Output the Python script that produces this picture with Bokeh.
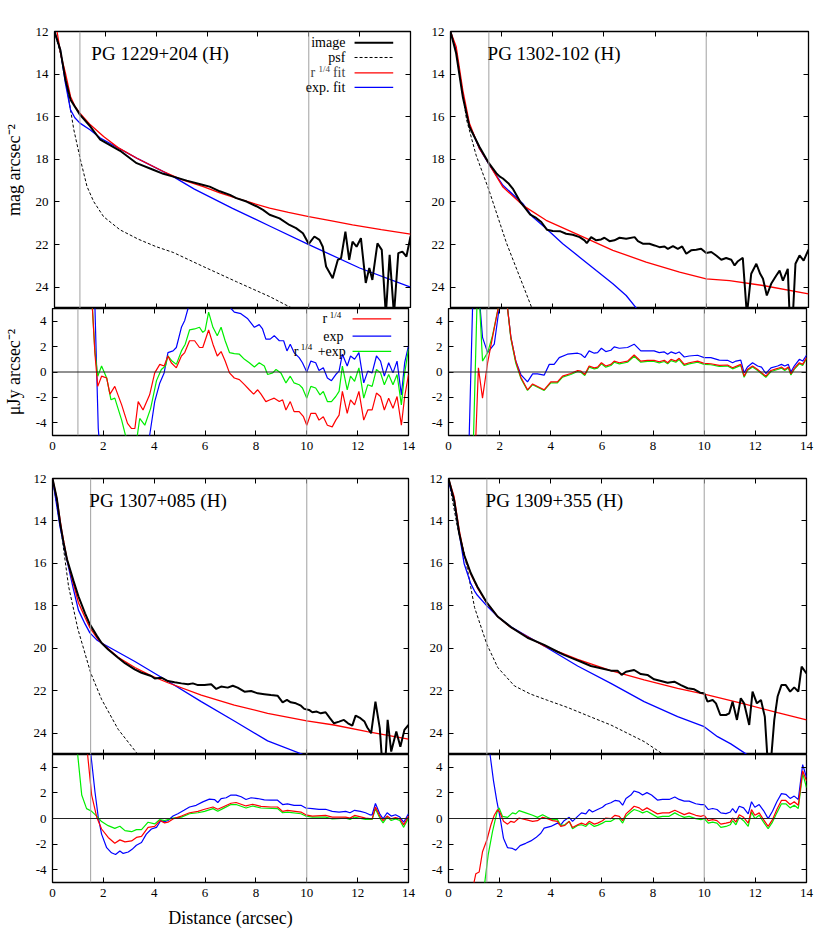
from bokeh.plotting import figure
from bokeh.models import Range1d, LinearAxis, FixedTicker, Span, Label, Arrow
from bokeh.layouts import column, row
from bokeh.embed import file_html
from bokeh.resources import INLINE

# ---------------- data (distance arcsec, value) ----------------
x_ticks = [0, 2, 4, 6, 8, 10, 12, 14]
mag_ticks = [12, 14, 16, 18, 20, 22, 24]
res_ticks = [-4, -2, 0, 2, 4]
titles = ["PG 1229+204 (H)", "PG 1302-102 (H)", "PG 1307+085 (H)", "PG 1309+355 (H)"]
inner_radius = [1.0, 1.5, 1.5, 1.5]
outer_radius = [10.0, 10.0, 10.0, 10.0]

# PG 1229+204
tl_img = [(0,12),(0.23,12.86),(0.43,14.27),(0.63,15.2),(1.0,15.9),(1.41,16.46),(1.8,17.08),(2.58,17.6),(3.23,18.18),(3.88,18.49),(4.28,18.68),(4.67,18.81),(5.2,19.0),(5.85,19.2),(6.1,19.28),(6.5,19.5),(6.9,19.67),(7.15,19.82),(7.55,19.98),(7.94,20.2),(8.2,20.37),(8.46,20.6),(8.85,20.77),(9.24,21.08),(9.5,21.23),(9.77,21.47),(10.0,21.97),(10.22,21.62),(10.42,21.78),(10.55,22.1),(10.68,23.03),(10.94,23.58),(11.14,22.72),(11.27,22.64),(11.44,21.39),(11.59,22.72),(11.72,21.86),(11.88,22.1),(12.05,21.7),(12.24,23.8),(12.38,23.1),(12.5,23.66),(12.7,21.94),(12.87,22.25),(13.03,25.3),(13.18,22.48),(13.35,25.3),(13.52,22.4),(13.68,22.33),(13.84,22.56),(14.0,21.62)]
tl_psf = [(0,12),(0.25,13.1),(0.5,14.74),(0.76,16.61),(1.02,18.02),(1.28,19.28),(1.54,19.98),(1.93,20.69),(2.58,21.31),(3.3,21.75),(4.0,22.1),(4.67,22.37),(5.85,23.03),(7.15,23.74),(8.46,24.44),(9.27,24.94),(9.5,25.06)]
tl_r14 = [(0.1,12.0),(0.25,13.1),(0.43,13.96),(0.63,15.05),(0.8,15.5),(1.0,15.83),(1.41,16.38),(1.93,16.93),(2.5,17.45),(3.24,17.95),(4.28,18.57),(5.0,18.95),(5.85,19.28),(6.5,19.57),(7.15,19.82),(7.8,20.06),(8.46,20.29),(9.2,20.49),(10.0,20.69),(10.85,20.88),(11.72,21.08),(12.85,21.3),(14.0,21.51)]
tl_exp = [(0,12),(0.23,12.86),(0.43,14.43),(0.63,15.68),(0.8,16.05),(1.0,16.3),(1.41,16.62),(1.8,17.0),(3.23,17.94),(4.67,18.81),(5.5,19.4),(7.0,20.3),(8.5,21.15),(10.0,22.0),(12.0,23.1),(14.0,24.0)]
tl_res_r14 = [(1.45,8),(1.57,4.99),(1.67,1.4),(1.78,-1.13),(1.93,-0.33),(2.13,-0.47),(2.26,-1.74),(2.45,-1.13),(2.72,-2.59),(2.95,-4.05),(3.11,-4.45),(3.24,-4.45),(3.37,-2.33),(3.56,-2.99),(3.82,-1.8),(4.02,-0.07),(4.22,0.6),(4.39,0.47),(4.54,1.26),(4.67,0.73),(4.87,0.33),(5.07,1.26),(5.2,1.53),(5.39,2.46),(5.59,2.46),(5.78,1.93),(5.91,1.93),(6.14,3.31),(6.31,2.19),(6.48,1.26),(6.63,1.61),(6.79,0.86),(6.96,-0.07),(7.15,-0.47),(7.35,-0.6),(7.55,-1.0),(7.74,-1.4),(7.91,-1.74),(8.07,-1.4),(8.2,-1.74),(8.39,-2.33),(8.56,-2.19),(8.72,-2.06),(8.92,-2.33),(9.05,-2.19),(9.18,-2.99),(9.35,-2.33),(9.5,-3.12),(9.7,-3.12),(9.87,-3.52),(10.0,-4.19),(10.16,-3.26),(10.35,-3.26),(10.48,-3.79),(10.65,-3.52),(10.81,-4.19),(11.0,-4.32),(11.14,-3.79),(11.27,-3.39),(11.4,-1.53),(11.59,-3.26),(11.72,-2.19),(11.88,-2.59),(12.05,-1.53),(12.24,-3.79),(12.4,-2.99),(12.57,-2.99),(12.74,-1.66),(12.9,-1.93),(13.05,-2.99),(13.22,-2.06),(13.39,-2.86),(13.55,-1.93),(13.72,-4.19),(13.85,-1.93),(14.0,-0.2)]
tl_res_exp = [(1.6,8),(1.67,5.0),(1.8,-4.45),(1.9,-7),(2.5,-12),(3.2,-10),(3.7,-6),(3.82,-5.0),(4.02,-2.33),(4.22,-0.86),(4.39,-0.07),(4.54,1.53),(4.74,1.66),(4.87,1.93),(5.07,3.52),(5.2,4.06),(5.33,5.0),(5.8,6.6),(6.2,7.5),(6.6,6.5),(7.02,5.0),(7.15,4.72),(7.41,4.59),(7.68,4.19),(7.94,3.52),(8.13,3.73),(8.26,3.39),(8.39,2.59),(8.56,2.59),(8.72,2.86),(8.92,2.46),(9.09,2.46),(9.22,1.66),(9.35,2.19),(9.5,1.53),(9.7,1.13),(9.83,0.73),(10.0,0.0),(10.16,0.86),(10.35,0.73),(10.48,0.12),(10.65,0.33),(10.81,-0.47),(10.97,-0.68),(11.14,-0.2),(11.27,0.07),(11.4,1.4),(11.59,0.47),(11.72,1.26),(11.88,1.0),(12.05,1.53),(12.24,-0.86),(12.4,0.07),(12.57,-0.07),(12.74,1.26),(12.9,0.86),(13.05,-0.33),(13.22,0.73),(13.39,-0.07),(13.55,0.86),(13.72,-1.8),(13.85,0.73),(14.0,2.06)]
tl_res_both = [(1.45,8),(1.57,4.99),(1.67,1.6),(1.78,-0.33),(1.93,0.47),(2.13,-0.47),(2.3,-2.19),(2.45,-2.06),(2.72,-3.79),(2.87,-4.99),(3.11,-5.5),(3.3,-5.5),(3.43,-3.66),(3.63,-4.19),(3.86,-2.86),(4.09,-0.68),(4.28,0.2),(4.44,0.47),(4.54,1.26),(4.7,0.86),(4.87,0.6),(5.07,1.66),(5.22,2.19),(5.39,3.31),(5.59,3.39),(5.78,3.52),(5.91,3.12),(6.0,3.26),(6.14,4.72),(6.31,3.52),(6.48,2.86),(6.63,3.52),(6.79,2.46),(6.96,1.53),(7.15,1.45),(7.35,1.4),(7.55,1.0),(7.74,0.73),(7.94,0.39),(8.13,0.73),(8.33,0.47),(8.46,-0.2),(8.66,-0.07),(8.79,0.2),(8.98,-0.07),(9.18,-0.86),(9.35,-0.33),(9.5,-0.86),(9.7,-1.0),(9.83,-1.26),(10.0,-2.06),(10.16,-1.13),(10.35,-1.26),(10.52,-1.8),(10.65,-1.53),(10.81,-2.33),(10.97,-2.33),(11.14,-1.93),(11.27,-1.53),(11.4,0.47),(11.59,-1.4),(11.72,-0.33),(11.88,-0.73),(12.05,0.33),(12.24,-2.06),(12.4,-1.0),(12.57,-1.13),(12.74,0.2),(12.9,-0.07),(13.05,-1.0),(13.22,-0.2),(13.39,-1.0),(13.55,-0.2),(13.72,-2.59),(13.85,-0.07),(14.0,1.8)]

# PG 1302-102
tr_img = [(0,12),(0.22,13.02),(0.48,15.06),(0.74,16.47),(1.13,17.41),(1.5,18.18),(1.79,18.65),(1.93,18.81),(2.05,18.9),(2.26,19.12),(2.45,19.4),(2.72,19.98),(2.9,20.25),(3.12,20.6),(3.35,20.75),(3.55,20.94),(3.77,21.3),(4.0,21.36),(4.3,21.38),(4.52,21.49),(4.78,21.54),(5.05,21.65),(5.24,21.8),(5.33,21.93),(5.5,21.65),(5.7,21.8),(5.89,21.76),(6.02,21.68),(6.22,21.84),(6.41,21.8),(6.61,21.68),(6.87,21.73),(7.2,21.65),(7.33,21.84),(7.52,21.96),(7.78,21.96),(7.98,22.04),(8.17,22.12),(8.37,22.09),(8.5,22.2),(8.7,22.07),(8.89,22.2),(9.06,22.09),(9.22,22.43),(9.41,22.27),(9.61,22.24),(9.8,22.2),(10.0,22.4),(10.2,22.35),(10.39,22.51),(10.59,22.71),(10.78,22.63),(10.98,22.71),(11.11,22.98),(11.24,22.78),(11.43,22.62),(11.59,25.3),(11.76,23.37),(11.96,22.9),(12.11,23.37),(12.22,23.6),(12.37,24.39),(12.54,23.84),(12.74,23.45),(12.87,23.22),(13.0,23.69),(13.19,23.14),(13.26,25.3),(13.39,25.3),(13.49,22.9),(13.65,22.51),(13.81,22.75),(14.0,22.24)]
tr_psf = [(0,12),(0.25,13.1),(0.63,16.15),(1.0,17.8),(1.5,19.43),(2.19,21.93),(3.16,24.91),(3.25,25.2)]
tr_r14 = [(0,12),(0.22,12.7),(0.48,14.75),(0.74,16.31),(1.13,17.49),(1.5,18.2),(2.05,19.3),(2.83,20.16),(3.74,20.86),(5.05,21.57),(6.35,22.27),(7.65,22.82),(8.96,23.29),(10.0,23.61),(10.91,23.69),(12.22,23.92),(14.0,24.31)]
tr_exp = [(0,12),(0.22,12.9),(0.48,14.98),(0.74,16.39),(1.13,17.49),(1.5,18.23),(2.05,19.22),(2.83,20.08),(3.22,20.71),(3.74,21.25),(4.39,21.96),(5.05,22.59),(5.7,23.22),(6.35,23.84),(6.87,24.39),(7.26,24.97),(7.5,25.3)]
tr_res_r14 = [(1.0,-8),(1.07,-5),(1.17,0.33),(1.33,-2.06),(1.53,0.73),(1.72,2.73),(1.94,5),(2.15,6.5),(2.31,5),(2.44,2.73),(2.63,0.86),(2.83,-0.41),(3.09,-1.4),(3.29,-0.94),(3.74,-1.4),(4.0,-0.78),(4.26,-0.78),(4.46,-0.33),(4.78,-0.12),(5.05,0.12),(5.18,0.07),(5.33,-0.2),(5.5,0.47),(5.7,0.33),(5.83,0.39),(5.98,0.73),(6.15,0.47),(6.35,0.6),(6.48,0.86),(6.68,0.73),(7.0,0.86),(7.26,1.34),(7.52,0.86),(7.78,0.92),(8.04,0.92),(8.24,0.81),(8.44,0.92),(8.57,0.73),(8.7,1.0),(8.89,0.86),(9.02,1.08),(9.22,0.6),(9.41,0.73),(9.74,0.86),(10.0,0.68),(10.26,0.65),(10.59,0.52),(10.91,0.55),(11.11,0.33),(11.43,0.6),(11.56,-0.33),(11.69,0.2),(11.89,0.47),(12.09,0.2),(12.41,-0.33),(12.61,0.12),(12.87,0.28),(13.02,0.39),(13.15,0.2),(13.29,0.39),(13.39,-0.15),(13.52,0.28),(13.72,0.73),(13.85,0.6),(14.0,1.13)]
tr_res_exp = [(0.7,-8),(0.81,-5),(0.94,5),(1.0,8),(1.2,6),(1.33,2.73),(1.53,1.53),(1.79,2.19),(1.98,5),(2.18,6),(2.31,5),(2.44,2.73),(2.63,0.86),(2.83,-0.2),(3.09,-0.78),(3.29,-0.15),(3.48,-0.15),(3.74,-0.25),(3.94,0.6),(4.13,0.6),(4.33,1.13),(4.65,1.4),(5.05,1.48),(5.18,1.4),(5.33,1.13),(5.5,1.66),(5.7,1.48),(5.83,1.53),(5.98,1.87),(6.15,1.61),(6.35,1.71),(6.48,1.98),(6.68,1.87),(7.0,1.93),(7.26,2.19),(7.52,1.66),(7.78,1.66),(8.04,1.66),(8.24,1.53),(8.44,1.58),(8.57,1.4),(8.7,1.58),(8.89,1.45),(9.02,1.58),(9.22,1.18),(9.41,1.26),(9.74,1.32),(10.0,1.13),(10.26,1.13),(10.59,0.94),(10.91,0.92),(11.11,0.73),(11.24,0.86),(11.43,0.94),(11.56,-0.07),(11.69,0.39),(11.89,0.73),(12.09,0.47),(12.24,0.39),(12.41,-0.12),(12.61,0.33),(12.87,0.47),(13.02,0.6),(13.15,0.47),(13.29,0.6),(13.39,0.0),(13.52,0.47),(13.72,1.0),(13.85,0.86),(14.0,1.32)]
tr_res_both = [(0.9,-8),(0.98,-5),(1.11,5),(1.2,6),(1.33,0.86),(1.53,1.53),(1.72,2.86),(1.94,5),(2.15,6.5),(2.31,5),(2.44,2.6),(2.63,0.7),(2.83,-0.5),(3.09,-1.45),(3.29,-1.0),(3.74,-1.45),(4.0,-0.85),(4.26,-0.85),(4.46,-0.4),(4.78,-0.2),(5.05,0.04),(5.18,-0.02),(5.33,-0.28),(5.5,0.38),(5.7,0.25),(5.83,0.3),(5.98,0.64),(6.15,0.38),(6.35,0.51),(6.48,0.77),(6.68,0.64),(7.0,0.77),(7.26,1.24),(7.52,0.77),(7.78,0.83),(8.04,0.83),(8.24,0.72),(8.44,0.83),(8.57,0.64),(8.7,0.9),(8.89,0.77),(9.02,0.98),(9.22,0.51),(9.41,0.64),(9.74,0.77),(10.0,0.6),(10.26,0.57),(10.59,0.44),(10.91,0.47),(11.11,0.25),(11.43,0.52),(11.56,-0.42),(11.69,0.12),(11.89,0.39),(12.09,0.12),(12.41,-0.42),(12.61,0.04),(12.87,0.2),(13.02,0.31),(13.15,0.12),(13.29,0.31),(13.39,-0.24),(13.52,0.2),(13.72,0.65),(13.85,0.52),(14.0,1.05)]

# PG 1307+085
bl_img = [(0,12),(0.17,12.94),(0.3,14.1),(0.43,15.0),(0.57,15.8),(0.82,16.8),(1.02,17.55),(1.28,18.35),(1.47,18.87),(1.74,19.4),(1.93,19.75),(2.19,20.05),(2.58,20.44),(2.85,20.7),(3.23,20.99),(3.5,21.15),(3.88,21.3),(4.02,21.42),(4.28,21.38),(4.54,21.54),(4.8,21.6),(5.07,21.65),(5.33,21.69),(5.52,21.65),(5.72,21.73),(5.98,21.73),(6.24,21.69),(6.44,21.91),(6.63,21.8),(6.89,21.85),(7.09,21.76),(7.28,21.85),(7.55,22.04),(7.81,22.01),(8.07,22.12),(8.33,22.16),(8.59,22.2),(8.85,22.23),(9.05,22.54),(9.22,22.43),(9.37,22.54),(9.57,22.59),(9.77,22.7),(9.9,22.85),(10.09,22.9),(10.22,23.01),(10.39,22.98),(10.55,23.06),(10.74,23.01),(10.91,23.29),(11.07,23.53),(11.27,23.45),(11.46,23.37),(11.62,23.53),(11.79,23.64),(11.92,23.17),(12.11,23.29),(12.27,23.45),(12.38,23.73),(12.53,24.0),(12.7,22.51),(12.87,23.76),(12.96,25.3),(13.09,25.3),(13.18,23.37),(13.32,24.86),(13.52,23.92),(13.68,24.63),(13.84,23.84),(14.0,23.61)]
bl_psf = [(0,12),(0.37,14.72),(0.63,17.07),(1.0,19.1),(1.5,21.15),(1.93,22.4),(2.58,23.81),(3.3,24.91),(3.4,25.1)]
bl_r14 = [(0,12),(0.17,12.94),(0.37,14.5),(0.57,15.8),(0.82,16.95),(1.02,17.85),(1.28,18.55),(1.47,19.03),(1.74,19.5),(1.93,19.75),(2.58,20.42),(3.24,20.9),(3.89,21.3),(4.54,21.62),(5.85,22.2),(7.15,22.67),(8.46,23.06),(10.0,23.42),(11.07,23.61),(12.38,23.92),(14.0,24.28)]
bl_exp = [(0,12),(0.3,14.3),(0.57,15.85),(0.82,17.2),(1.02,18.2),(1.28,18.85),(1.47,19.27),(1.74,19.6),(1.93,19.75),(3.24,20.62),(4.54,21.55),(5.85,22.51),(7.15,23.42),(8.46,24.36),(9.83,24.99),(10.0,25.1)]
bl_res_r14 = [(1.3,8),(1.38,5),(1.54,1.83),(1.74,0.1),(1.93,-0.82),(2.19,-1.48),(2.45,-1.93),(2.65,-1.67),(2.85,-1.83),(3.11,-1.75),(3.3,-1.48),(3.5,-1.4),(3.76,-0.69),(4.02,-0.61),(4.22,-0.16),(4.41,-0.34),(4.54,-0.29),(4.74,-0.03),(5.07,0.19),(5.39,0.45),(5.72,0.56),(5.98,0.72),(6.31,0.9),(6.5,0.72),(6.7,0.9),(7.02,1.19),(7.22,1.25),(7.61,0.98),(7.87,1.11),(8.2,0.95),(8.59,0.9),(8.85,0.9),(9.05,0.56),(9.24,0.64),(9.77,0.5),(9.96,0.29),(10.22,0.19),(10.74,0.24),(11.0,0.11),(11.53,0.11),(11.7,0.03),(11.88,0.24),(12.31,0.03),(12.57,-0.03),(12.7,0.9),(12.87,0.19),(13.0,-0.16),(13.16,0.19),(13.32,-0.03),(13.49,0.08),(13.66,-0.03),(13.81,-0.5),(14.0,0.19)]
bl_res_exp = [(1.45,8),(1.51,5),(1.67,2.09),(1.8,0.1),(1.93,-1.22),(2.13,-2.28),(2.32,-2.68),(2.48,-2.81),(2.65,-2.54),(2.78,-2.73),(2.98,-2.62),(3.13,-2.41),(3.3,-2.09),(3.5,-1.88),(3.69,-1.22),(3.89,-0.82),(4.09,-0.69),(4.26,-0.16),(4.41,-0.24),(4.54,-0.16),(4.74,0.19),(4.93,0.37),(5.17,0.64),(5.39,0.9),(5.65,1.03),(5.91,1.3),(6.17,1.51),(6.37,1.48),(6.5,1.25),(6.63,1.56),(6.83,1.62),(7.02,1.83),(7.22,1.83),(7.42,1.7),(7.61,1.48),(7.81,1.62),(8.07,1.56),(8.33,1.46),(8.59,1.43),(8.85,1.43),(9.05,1.09),(9.24,1.14),(9.5,1.03),(9.77,1.03),(9.96,0.82),(10.22,0.77),(10.48,0.72),(10.74,0.72),(11.0,0.56),(11.27,0.5),(11.53,0.56),(11.7,0.45),(11.88,0.64),(12.11,0.56),(12.31,0.45),(12.48,0.29),(12.57,0.29),(12.7,1.17),(12.87,0.37),(13.0,-0.03),(13.16,0.45),(13.32,0.19),(13.49,0.29),(13.66,0.11),(13.81,-0.29),(14.0,0.37)]
bl_res_both = [(0.95,8),(0.99,5),(1.15,1.83),(1.34,0.77),(1.54,0.56),(1.74,0.19),(1.93,-0.24),(2.19,-0.56),(2.45,-0.77),(2.65,-0.61),(2.85,-0.95),(3.11,-1.03),(3.3,-0.87),(3.5,-0.87),(3.76,-0.29),(4.02,-0.42),(4.22,-0.08),(4.41,-0.16),(4.74,0.03),(5.07,0.11),(5.39,0.37),(5.72,0.45),(5.98,0.56),(6.31,0.77),(6.5,0.56),(6.7,0.77),(7.02,1.09),(7.22,1.09),(7.61,0.82),(7.87,0.98),(8.2,0.82),(8.85,0.77),(9.05,0.45),(9.24,0.5),(9.77,0.37),(9.96,0.19),(10.22,0.11),(10.74,0.11),(11.0,-0.03),(11.53,0.03),(11.7,-0.08),(11.88,0.11),(12.31,-0.08),(12.57,-0.08),(12.7,0.77),(12.87,0.03),(13.0,-0.34),(13.16,0.11),(13.32,-0.16),(13.49,-0.03),(13.66,-0.16),(13.81,-0.69),(14.0,0.03)]

# PG 1309+355
br_img = [(0,12),(0.22,13.02),(0.42,14.59),(0.61,15.6),(0.87,16.45),(1.02,16.83),(1.13,17.1),(1.5,17.85),(1.92,18.5),(2.44,19.0),(3.09,19.5),(3.74,19.84),(4.26,20.16),(4.52,20.31),(4.85,20.47),(5.18,20.63),(5.57,20.83),(5.96,20.94),(6.35,21.05),(6.61,21.05),(6.77,21.25),(6.94,21.1),(7.26,21.02),(7.52,21.21),(7.78,21.25),(8.04,21.46),(8.31,21.54),(8.57,21.62),(8.83,21.57),(9.09,21.73),(9.35,21.88),(9.61,21.93),(9.84,22.09),(10.0,22.12),(10.13,22.51),(10.33,22.43),(10.46,22.59),(10.63,23.14),(10.85,23.14),(10.98,23.06),(11.11,22.51),(11.28,23.37),(11.43,22.35),(11.56,22.59),(11.76,23.61),(11.89,22.04),(12.06,22.59),(12.22,22.43),(12.37,23.22),(12.48,25.3),(12.61,25.3),(12.74,23.37),(12.87,22.27),(13.02,21.73),(13.19,21.73),(13.36,22.04),(13.52,21.84),(13.68,22.04),(13.81,20.86),(14.0,21.18)]
br_psf = [(0,12),(0.35,14.3),(0.63,15.58),(1.02,18.08),(1.5,19.81),(1.93,20.91),(2.58,21.77),(3.2,22.15),(3.88,22.45),(4.67,22.79),(5.5,23.2),(6.35,23.61),(7.65,24.39),(8.37,24.97),(8.5,25.05)]
br_r14 = [(0,12),(0.22,12.86),(0.42,14.43),(0.61,15.61),(0.87,16.5),(1.13,17.15),(1.5,17.87),(1.92,18.5),(2.44,19.02),(3.74,19.89),(5.05,20.52),(6.35,21.05),(7.65,21.49),(8.96,21.88),(10.0,22.16),(11.56,22.62),(12.87,23.03),(14.0,23.37)]
br_exp = [(0,12.16),(0.22,13.02),(0.42,14.59),(0.61,16.0),(0.87,16.95),(1.02,17.3),(1.13,17.5),(1.5,18.0),(1.92,18.5),(2.44,18.98),(3.74,19.89),(5.05,20.83),(6.35,21.65),(7.65,22.51),(8.96,23.22),(10.0,23.69),(10.52,24.16),(11.04,24.5),(11.63,24.97),(11.8,25.1)]
br_res_r14 = [(0.9,-8),(1.0,-4.97),(1.07,-4.31),(1.2,-4.18),(1.33,-2.6),(1.5,-1.68),(1.66,-0.49),(1.79,0.25),(1.92,0.7),(2.02,0.44),(2.15,-0.22),(2.31,-0.44),(2.44,-0.22),(2.57,-0.3),(2.76,0.04),(3.02,-0.09),(3.29,-0.22),(3.48,-0.17),(3.68,0.09),(3.87,-0.01),(4.07,-0.17),(4.26,-0.22),(4.39,-0.62),(4.55,-0.54),(4.72,-0.22),(4.85,-0.7),(5.05,-0.49),(5.2,-0.36),(5.37,-0.49),(5.5,-0.22),(5.7,-0.44),(5.83,-0.36),(6.02,-0.17),(6.15,0.04),(6.35,-0.01),(6.51,0.25),(6.68,0.17),(6.81,-0.17),(6.94,0.36),(7.13,0.7),(7.26,0.96),(7.46,0.83),(7.59,0.62),(7.76,0.83),(7.94,0.62),(8.17,0.36),(8.37,0.44),(8.63,0.44),(8.85,0.65),(9.02,0.49),(9.22,0.3),(9.41,0.44),(9.67,0.25),(9.87,0.17),(10.0,0.25),(10.16,-0.17),(10.33,-0.09),(10.5,-0.17),(10.65,-0.44),(10.85,-0.36),(11.02,-0.28),(11.11,0.04),(11.24,-0.28),(11.37,0.3),(11.54,0.09),(11.72,-0.36),(11.85,0.7),(11.98,0.25),(12.15,0.44),(12.32,-0.09),(12.5,-0.62),(12.67,-0.09),(12.84,0.7),(13.02,1.41),(13.19,1.41),(13.36,1.09),(13.52,1.31),(13.68,1.04),(13.85,3.73),(14.0,2.94)]
br_res_exp = [(1.55,8),(1.63,4.92),(1.76,2.94),(1.89,1.36),(2.02,0.04),(2.15,-1.54),(2.31,-2.28),(2.5,-2.34),(2.63,-2.47),(2.8,-2.12),(3.02,-1.94),(3.22,-1.75),(3.42,-1.49),(3.61,-1.15),(3.74,-0.75),(4.0,-0.62),(4.26,-0.36),(4.39,-0.49),(4.52,-0.17),(4.72,0.09),(4.85,-0.22),(5.05,0.17),(5.2,0.44),(5.37,0.36),(5.5,0.7),(5.63,0.51),(5.83,0.7),(6.02,0.88),(6.15,1.09),(6.35,1.23),(6.51,1.41),(6.68,1.36),(6.81,1.04),(6.94,1.57),(7.13,1.83),(7.26,2.15),(7.46,2.02),(7.59,1.83),(7.76,2.02),(7.94,1.83),(8.17,1.44),(8.37,1.49),(8.63,1.49),(8.85,1.68),(9.02,1.49),(9.22,1.36),(9.41,1.36),(9.67,1.15),(9.87,1.09),(10.0,1.09),(10.16,0.7),(10.33,0.78),(10.5,0.7),(10.65,0.44),(10.85,0.38),(11.02,0.51),(11.11,0.78),(11.24,0.44),(11.37,0.96),(11.54,0.83),(11.72,0.36),(11.85,1.31),(11.98,0.88),(12.15,1.09),(12.32,0.62),(12.5,-0.01),(12.67,0.57),(12.84,1.31),(13.02,1.94),(13.19,1.89),(13.36,1.57),(13.52,1.75),(13.68,1.49),(13.85,4.21),(14.0,3.21)]
br_res_both = [(1.35,-8),(1.42,-4.97),(1.55,-2.86),(1.72,-1.02),(1.89,0.44),(1.98,0.83),(2.11,0.17),(2.31,0.09),(2.5,0.44),(2.63,0.36),(2.76,0.62),(3.02,0.44),(3.29,0.25),(3.48,0.09),(3.68,0.3),(3.87,0.09),(4.07,-0.09),(4.26,-0.09),(4.39,-0.54),(4.55,-0.49),(4.72,-0.22),(4.85,-0.8),(5.05,-0.54),(5.2,-0.49),(5.37,-0.62),(5.5,-0.36),(5.7,-0.62),(5.83,-0.54),(6.02,-0.36),(6.15,-0.22),(6.35,-0.22),(6.51,-0.01),(6.68,-0.01),(6.81,-0.36),(6.94,0.17),(7.13,0.51),(7.26,0.7),(7.46,0.57),(7.59,0.44),(7.76,0.57),(7.94,0.36),(8.17,0.09),(8.37,0.17),(8.63,0.17),(8.85,0.44),(9.02,0.25),(9.22,0.09),(9.41,0.17),(9.67,-0.01),(9.87,-0.09),(10.0,-0.01),(10.16,-0.36),(10.33,-0.28),(10.5,-0.36),(10.65,-0.7),(10.85,-0.62),(11.02,-0.49),(11.11,-0.17),(11.24,-0.49),(11.37,0.09),(11.54,-0.17),(11.72,-0.62),(11.85,0.51),(11.98,-0.01),(12.15,0.25),(12.32,-0.28),(12.5,-0.8),(12.67,-0.28),(12.84,0.44),(13.02,1.15),(13.19,1.15),(13.36,0.83),(13.52,1.04),(13.68,0.78),(13.85,3.52),(14.0,2.41)]

# ---------------- styling ----------------
FONT = "Liberation Serif"
RED, BLUE, GREEN, GREY = "#ff0000", "#0000ff", "#00ee00", "#a0a0a0"
FRAME_W = [356, 358]
BORDER_L = [52, 32]
BORDER_R = [8, 10]
# (top border, frame height, bottom border) for each row of panels
ROWS = {"main_top": (31, 277, 0), "res_top": (0, 127, 35),
        "main_bot": (8, 276, 0), "res_bot": (0, 128, 48)}


def xy(pairs):
    return [p[0] for p in pairs], [p[1] for p in pairs]


def add_axis(p, side, ticks, show_labels, axis_label=None, overrides=None):
    ax = LinearAxis(ticker=FixedTicker(ticks=ticks))
    ax.major_tick_in = 5
    ax.major_tick_out = 0
    ax.minor_tick_in = 0
    ax.minor_tick_out = 0
    ax.axis_line_color = None
    ax.major_tick_line_color = "black"
    if show_labels:
        ax.major_label_text_font = FONT
        ax.major_label_text_font_size = "13px"
        ax.major_label_text_color = "black"
        ax.major_label_standoff = 6
        if overrides:
            ax.major_label_overrides = overrides
    else:
        ax.major_label_text_font_size = "1px"
        ax.major_label_text_color = None
        ax.major_label_standoff = 0
    if axis_label:
        ax.axis_label = axis_label
        ax.axis_label_text_font = FONT
        ax.axis_label_text_font_size = "18px"
        ax.axis_label_text_font_style = "normal"
        ax.axis_label_text_color = "black"
        ax.axis_label_standoff = 9 if side == "left" else 8
    p.add_layout(ax, side)


def base_fig(yr, col, key):
    bt, fh, bb = ROWS[key]
    p = figure(x_range=Range1d(0, 14), y_range=yr, frame_width=FRAME_W[col], frame_height=fh,
               min_border_left=BORDER_L[col], min_border_right=BORDER_R[col],
               min_border_top=bt, min_border_bottom=bb,
               toolbar_location=None, output_backend="svg",
               x_axis_location=None, y_axis_location=None)
    for g in p.grid:
        g.visible = False
    p.outline_line_color = "black"
    p.outline_line_width = 1.3
    p.background_fill_color = "white"
    p.border_fill_color = "white"
    return p


def main_panel(col, key, img, psf, r14, exp, title, rin, rout, ylabel=None, legend=False):
    p = base_fig(Range1d(25, 12), col, key)
    add_axis(p, "left", mag_ticks, True, axis_label=ylabel)
    add_axis(p, "right", mag_ticks, False)
    add_axis(p, "below", x_ticks, False)
    add_axis(p, "above", x_ticks, False)
    for loc in (rin, rout):
        p.add_layout(Span(location=loc, dimension="height", line_color=GREY, line_width=1))
    x, y = xy(psf)
    p.line(x, y, line_color="black", line_width=1, line_dash="3 2")
    x, y = xy(exp)
    p.line(x, y, line_color=BLUE, line_width=1.3)
    x, y = xy(r14)
    p.line(x, y, line_color=RED, line_width=1.3)
    x, y = xy(img)
    p.line(x, y, line_color="black", line_width=2)
    p.add_layout(Label(x=1.45, y=13.05, text=title, text_font=FONT, text_font_size="19px",
                       text_align="left", text_baseline="alphabetic", text_color="black"))
    if legend:
        rows = [(12.53, "image", "black", 2, None), (13.22, "psf", "black", 1, "3 2"),
                (13.94, None, RED, 1.3, None), (14.62, "exp. fit", BLUE, 1.3, None)]
        for yy, txt, c, w, dash in rows:
            if txt:
                p.add_layout(Label(x=11.44, y=yy, text=txt, text_font=FONT, text_font_size="14px",
                                   text_align="right", text_baseline="middle", text_color="black"))
            kw = dict(line_dash=dash) if dash else {}
            p.add_layout(Arrow(end=None, x_start=11.8, y_start=yy, x_end=13.32, y_end=yy,
                               line_color=c, line_width=w, **kw))
        p.add_layout(Label(x=10.07, y=13.94, text="r", text_font=FONT, text_font_size="14px",
                           text_align="left", text_baseline="middle"))
        p.add_layout(Label(x=10.38, y=13.74, text="1/4", text_font=FONT, text_font_size="9px",
                           text_align="left", text_baseline="middle"))
        p.add_layout(Label(x=10.95, y=13.94, text="fit", text_font=FONT, text_font_size="14px",
                           text_align="left", text_baseline="middle"))
    return p


def res_panel(col, key, r14, exp, both, rin, rout, ylabel=None, xlabel=None, legend=False):
    p = base_fig(Range1d(-5, 5), col, key)
    add_axis(p, "left", res_ticks, True, axis_label=ylabel, overrides={-4: "-4", -2: "-2"})
    add_axis(p, "right", res_ticks, False)
    add_axis(p, "below", x_ticks, True, axis_label=xlabel)
    add_axis(p, "above", x_ticks, False)
    for loc in (rin, rout):
        p.add_layout(Span(location=loc, dimension="height", line_color=GREY, line_width=1))
    p.add_layout(Span(location=0, dimension="width", line_color="#222222", line_width=1))
    x, y = xy(exp)
    p.line(x, y, line_color=BLUE, line_width=1.2)
    x, y = xy(both)
    p.line(x, y, line_color=GREEN, line_width=1.2)
    x, y = xy(r14)
    p.line(x, y, line_color=RED, line_width=1.2)
    if legend:
        for yy, c in ((4.18, RED), (2.83, BLUE), (1.63, GREEN)):
            p.add_layout(Arrow(end=None, x_start=11.8, y_start=yy, x_end=13.32, y_end=yy,
                               line_color=c, line_width=1.2))
        lab = dict(text_font=FONT, text_baseline="middle", text_color="black")
        p.add_layout(Label(x=10.62, y=4.18, text="r", text_font_size="14px", text_align="left", **lab))
        p.add_layout(Label(x=10.9, y=4.5, text="1/4", text_font_size="9px", text_align="left", **lab))
        p.add_layout(Label(x=11.44, y=2.83, text="exp", text_font_size="14px", text_align="right", **lab))
        p.add_layout(Label(x=9.49, y=1.63, text="r", text_font_size="14px", text_align="left", **lab))
        p.add_layout(Label(x=9.76, y=1.95, text="1/4", text_font_size="9px", text_align="left", **lab))
        p.add_layout(Label(x=10.43, y=1.63, text="+exp", text_font_size="14px", text_align="left", **lab))
    return p


m_tl = main_panel(0, "main_top", tl_img, tl_psf, tl_r14, tl_exp, titles[0], inner_radius[0], outer_radius[0],
                  ylabel="mag arcsec\u207b\u00b2", legend=True)
m_tr = main_panel(1, "main_top", tr_img, tr_psf, tr_r14, tr_exp, titles[1], inner_radius[1], outer_radius[1])
r_tl = res_panel(0, "res_top", tl_res_r14, tl_res_exp, tl_res_both, inner_radius[0], outer_radius[0],
                 ylabel="\u03bcJy arcsec\u207b\u00b2", legend=True)
r_tr = res_panel(1, "res_top", tr_res_r14, tr_res_exp, tr_res_both, inner_radius[1], outer_radius[1])
m_bl = main_panel(0, "main_bot", bl_img, bl_psf, bl_r14, bl_exp, titles[2], inner_radius[2], outer_radius[2])
m_br = main_panel(1, "main_bot", br_img, br_psf, br_r14, br_exp, titles[3], inner_radius[3], outer_radius[3])
r_bl = res_panel(0, "res_bot", bl_res_r14, bl_res_exp, bl_res_both, inner_radius[2], outer_radius[2],
                 xlabel="Distance (arcsec)")
r_br = res_panel(1, "res_bot", br_res_r14, br_res_exp, br_res_both, inner_radius[3], outer_radius[3])

layout = column(row(m_tl, m_tr), row(r_tl, r_tr), row(m_bl, m_br), row(r_bl, r_br))

with open("out.html", "w") as f:
    f.write(file_html(layout, INLINE))
